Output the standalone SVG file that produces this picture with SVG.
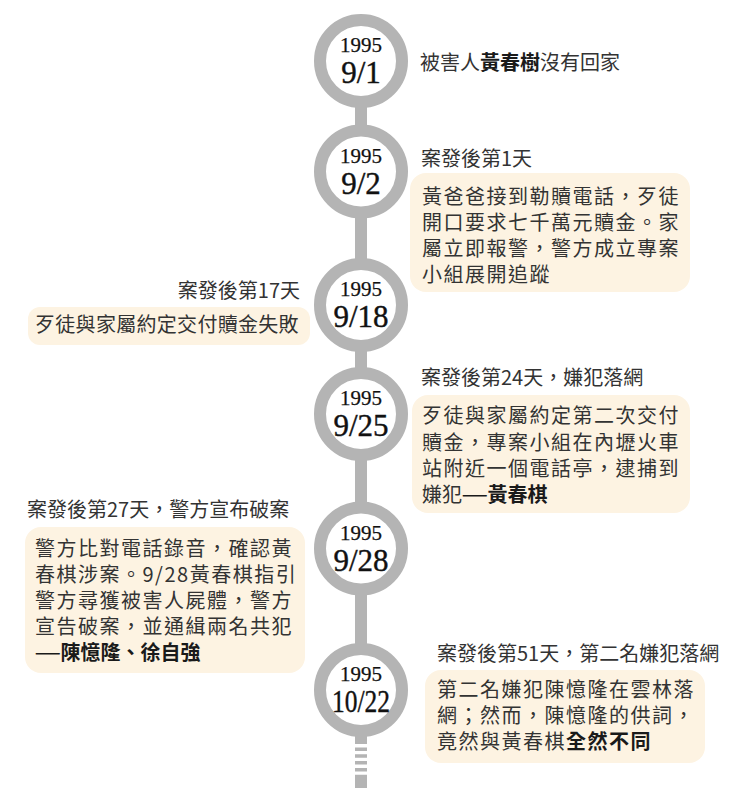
<svg xmlns="http://www.w3.org/2000/svg" width="734" height="800" viewBox="0 0 734 800">
<style>
.ring{fill:#fff;stroke:#b4b4b4;stroke-width:12}
.yr{font-family:"Liberation Serif","DejaVu Serif",serif;font-size:21px;fill:#111;stroke:#111;stroke-width:0.25;text-anchor:middle}
.dt{font-family:"Liberation Serif","DejaVu Serif",serif;font-size:31px;fill:#111;stroke:#111;stroke-width:0.4;text-anchor:middle}
.t{font-family:"Noto Sans CJK TC","Noto Sans CJK JP","Noto Sans",sans-serif;font-size:20px;fill:#333}
.body{letter-spacing:1.5px}
.b{font-weight:bold;fill:#1a1a1a}
.box{fill:#fdf3e2}
.line{stroke:#b4b4b4;stroke-width:12;fill:none}
</style>
<rect width="734" height="800" fill="#fff"/>
<g id="connectors">
<line class="line" x1="361" y1="61" x2="361" y2="744"/>
<line class="line" x1="361" y1="747.5" x2="361" y2="775" stroke-dasharray="3.5 3.3"/>
<line class="line" x1="361" y1="775" x2="361" y2="788"/>
</g>
<g id="node-0901">
<circle class="ring" cx="361" cy="61" r="41"/>
<text class="yr" x="361" y="52">1995</text>
<text class="dt" x="361" y="83">9/1</text>
<text class="t" x="420" y="70">被害人<tspan class="b">黃春樹</tspan>沒有回家</text>
</g>
<g id="node-0902">
<circle class="ring" cx="361" cy="171.5" r="41"/>
<text class="yr" x="361" y="162.5">1995</text>
<text class="dt" x="361" y="193.5">9/2</text>
<text class="t" x="421" y="166">案發後第1天</text>
<rect class="box" x="410" y="173" width="280" height="119" rx="16"/>
<text class="t body" x="422" y="204">黃爸爸接到勒贖電話，歹徒</text>
<text class="t body" x="422" y="230">開口要求七千萬元贖金。家</text>
<text class="t body" x="422" y="256">屬立即報警，警方成立專案</text>
<text class="t body" x="422" y="282">小組展開追蹤</text>
</g>
<g id="node-0918">
<circle class="ring" cx="361" cy="305" r="41"/>
<text class="yr" x="361" y="296">1995</text>
<text class="dt" x="361" y="327">9/18</text>
<text class="t" x="300" y="298" text-anchor="end">案發後第17天</text>
<rect class="box" x="28" y="307" width="282" height="38" rx="12"/>
<text class="t" x="35" y="332" letter-spacing="0.3">歹徒與家屬約定交付贖金失敗</text>
</g>
<g id="node-0925">
<circle class="ring" cx="361" cy="414" r="41"/>
<text class="yr" x="361" y="405">1995</text>
<text class="dt" x="361" y="436">9/25</text>
<text class="t" x="421" y="385">案發後第24天，嫌犯落網</text>
<rect class="box" x="412" y="395" width="278" height="118" rx="16"/>
<text class="t body" x="422" y="423">歹徒與家屬約定第二次交付</text>
<text class="t body" x="422" y="450">贖金，專案小組在內壢火車</text>
<text class="t body" x="422" y="476">站附近一個電話亭，逮捕到</text>
<text class="t" x="422" y="502">嫌犯<tspan class="b" font-size="15" dy="-2">——</tspan><tspan class="b" dy="2">黃春棋</tspan></text>
</g>
<g id="node-0928">
<circle class="ring" cx="361" cy="548.5" r="41"/>
<text class="yr" x="361" y="539.5">1995</text>
<text class="dt" x="361" y="570.5">9/28</text>
<text class="t" x="27" y="517">案發後第27天，警方宣布破案</text>
<rect class="box" x="25" y="527" width="280" height="146" rx="16"/>
<text class="t body" x="35" y="556">警方比對電話錄音，確認黃</text>
<text class="t body" x="35" y="582">春棋涉案。9/28黃春棋指引</text>
<text class="t body" x="35" y="608">警方尋獲被害人屍體，警方</text>
<text class="t body" x="35" y="634">宣告破案，並通緝兩名共犯</text>
<text class="t" x="35" y="660"><tspan class="b" font-size="15" dy="-2">——</tspan><tspan class="b" dy="2">陳憶隆、徐自強</tspan></text>
</g>
<g id="node-1022">
<circle class="ring" cx="361" cy="690" r="41"/>
<text class="yr" x="361" y="680.5">1995</text>
<text class="dt" x="361" y="711.5" font-size="28" textLength="58" lengthAdjust="spacingAndGlyphs">10/22</text>
<text class="t" x="437" y="661">案發後第51天，第二名嫌犯落網</text>
<rect class="box" x="425" y="670" width="280" height="93" rx="16"/>
<text class="t body" x="437" y="697">第二名嫌犯陳憶隆在雲林落</text>
<text class="t body" x="437" y="723">網；然而，陳憶隆的供詞，</text>
<text class="t body" x="437" y="749">竟然與黃春棋<tspan class="b">全然不同</tspan></text>
</g>
</svg>
